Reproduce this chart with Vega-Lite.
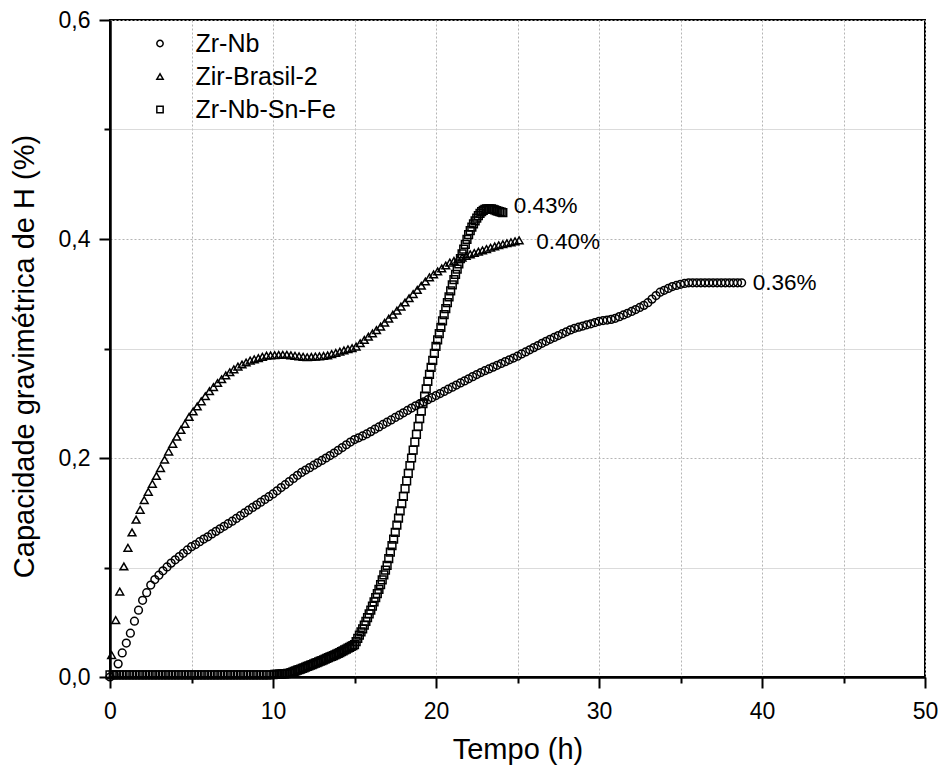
{
"$schema": "https://vega.github.io/schema/vega-lite/v6.json",
"width": 815, "height": 657,
"autosize": {"type": "none"},
"padding": {"left": 110, "top": 20, "right": 15, "bottom": 94},
"background": "white",
"config": {
 "font": "Liberation Sans",
 "view": {"stroke": "black", "strokeWidth": 2},
 "axis": {"domainColor": "black", "domainWidth": 2.5, "tickColor": "black", "tickWidth": 2, "labelFontSize": 23, "labelColor": "black", "titleFontSize": 29, "titleFontWeight": "normal", "titleColor": "black", "labelFlush": false, "labelOverlap": false},
 "legend": {"orient": "none", "legendX": 37.5, "legendY": 11, "labelFontSize": 25, "labelColor": "black", "symbolSize": 40, "symbolStrokeWidth": 1.5, "labelOffset": 23, "rowPadding": 7, "padding": 0}
},
"datasets": {
"pts": [
{"s":"Zr-Nb","t":0,"v":0},{"s":"Zr-Nb","t":0.25,"v":0.002},{"s":"Zr-Nb","t":0.5,"v":0.012},{"s":"Zr-Nb","t":0.75,"v":0.022},{"s":"Zr-Nb","t":1,"v":0.031},{"s":"Zr-Nb","t":1.25,"v":0.04},{"s":"Zr-Nb","t":1.5,"v":0.051},{"s":"Zr-Nb","t":1.75,"v":0.061},{"s":"Zr-Nb","t":2,"v":0.07},{"s":"Zr-Nb","t":2.25,"v":0.077},{"s":"Zr-Nb","t":2.5,"v":0.084},{"s":"Zr-Nb","t":2.75,"v":0.089},{"s":"Zr-Nb","t":3,"v":0.093},{"s":"Zr-Nb","t":3.25,"v":0.097},{"s":"Zr-Nb","t":3.5,"v":0.1005},{"s":"Zr-Nb","t":3.75,"v":0.104},{"s":"Zr-Nb","t":4,"v":0.107},{"s":"Zr-Nb","t":4.25,"v":0.11},{"s":"Zr-Nb","t":4.5,"v":0.113},{"s":"Zr-Nb","t":4.75,"v":0.116},{"s":"Zr-Nb","t":5,"v":0.119},{"s":"Zr-Nb","t":5.25,"v":0.121},{"s":"Zr-Nb","t":5.5,"v":0.1236},{"s":"Zr-Nb","t":5.75,"v":0.126},{"s":"Zr-Nb","t":6,"v":0.128},{"s":"Zr-Nb","t":6.25,"v":0.1306},{"s":"Zr-Nb","t":6.5,"v":0.133},{"s":"Zr-Nb","t":6.75,"v":0.1353},{"s":"Zr-Nb","t":7,"v":0.1376},{"s":"Zr-Nb","t":7.25,"v":0.14},{"s":"Zr-Nb","t":7.5,"v":0.1423},{"s":"Zr-Nb","t":7.75,"v":0.1448},{"s":"Zr-Nb","t":8,"v":0.1473},{"s":"Zr-Nb","t":8.25,"v":0.1498},{"s":"Zr-Nb","t":8.5,"v":0.1523},{"s":"Zr-Nb","t":8.75,"v":0.1548},{"s":"Zr-Nb","t":9,"v":0.1572},{"s":"Zr-Nb","t":9.25,"v":0.1597},{"s":"Zr-Nb","t":9.5,"v":0.1622},{"s":"Zr-Nb","t":9.75,"v":0.1647},{"s":"Zr-Nb","t":10,"v":0.1672},{"s":"Zr-Nb","t":10.25,"v":0.17},{"s":"Zr-Nb","t":10.5,"v":0.173},{"s":"Zr-Nb","t":10.75,"v":0.1756},{"s":"Zr-Nb","t":11,"v":0.1785},{"s":"Zr-Nb","t":11.25,"v":0.1813},{"s":"Zr-Nb","t":11.5,"v":0.1842},{"s":"Zr-Nb","t":11.75,"v":0.1868},{"s":"Zr-Nb","t":12,"v":0.189},{"s":"Zr-Nb","t":12.25,"v":0.1912},{"s":"Zr-Nb","t":12.5,"v":0.1934},{"s":"Zr-Nb","t":12.75,"v":0.1956},{"s":"Zr-Nb","t":13,"v":0.1978},{"s":"Zr-Nb","t":13.25,"v":0.2},{"s":"Zr-Nb","t":13.5,"v":0.2022},{"s":"Zr-Nb","t":13.75,"v":0.2045},{"s":"Zr-Nb","t":14,"v":0.207},{"s":"Zr-Nb","t":14.25,"v":0.2095},{"s":"Zr-Nb","t":14.5,"v":0.2121},{"s":"Zr-Nb","t":14.75,"v":0.2146},{"s":"Zr-Nb","t":15,"v":0.2168},{"s":"Zr-Nb","t":15.25,"v":0.2184},{"s":"Zr-Nb","t":15.5,"v":0.2201},{"s":"Zr-Nb","t":15.75,"v":0.222},{"s":"Zr-Nb","t":16,"v":0.2241},{"s":"Zr-Nb","t":16.25,"v":0.2263},{"s":"Zr-Nb","t":16.5,"v":0.2284},{"s":"Zr-Nb","t":16.75,"v":0.2306},{"s":"Zr-Nb","t":17,"v":0.2327},{"s":"Zr-Nb","t":17.25,"v":0.2348},{"s":"Zr-Nb","t":17.5,"v":0.237},{"s":"Zr-Nb","t":17.75,"v":0.2391},{"s":"Zr-Nb","t":18,"v":0.2413},{"s":"Zr-Nb","t":18.25,"v":0.2434},{"s":"Zr-Nb","t":18.5,"v":0.2456},{"s":"Zr-Nb","t":18.75,"v":0.2477},{"s":"Zr-Nb","t":19,"v":0.2495},{"s":"Zr-Nb","t":19.25,"v":0.2513},{"s":"Zr-Nb","t":19.5,"v":0.2532},{"s":"Zr-Nb","t":19.75,"v":0.2551},{"s":"Zr-Nb","t":20,"v":0.257},{"s":"Zr-Nb","t":20.25,"v":0.2589},{"s":"Zr-Nb","t":20.5,"v":0.2608},{"s":"Zr-Nb","t":20.75,"v":0.2628},{"s":"Zr-Nb","t":21,"v":0.2647},{"s":"Zr-Nb","t":21.25,"v":0.2666},{"s":"Zr-Nb","t":21.5,"v":0.2685},{"s":"Zr-Nb","t":21.75,"v":0.2704},{"s":"Zr-Nb","t":22,"v":0.2723},{"s":"Zr-Nb","t":22.25,"v":0.2743},{"s":"Zr-Nb","t":22.5,"v":0.2762},{"s":"Zr-Nb","t":22.75,"v":0.278},{"s":"Zr-Nb","t":23,"v":0.2797},{"s":"Zr-Nb","t":23.25,"v":0.2813},{"s":"Zr-Nb","t":23.5,"v":0.283},{"s":"Zr-Nb","t":23.75,"v":0.2847},{"s":"Zr-Nb","t":24,"v":0.2863},{"s":"Zr-Nb","t":24.25,"v":0.288},{"s":"Zr-Nb","t":24.5,"v":0.2897},{"s":"Zr-Nb","t":24.75,"v":0.2913},{"s":"Zr-Nb","t":25,"v":0.293},{"s":"Zr-Nb","t":25.25,"v":0.295},{"s":"Zr-Nb","t":25.5,"v":0.2969},{"s":"Zr-Nb","t":25.75,"v":0.2988},{"s":"Zr-Nb","t":26,"v":0.3008},{"s":"Zr-Nb","t":26.25,"v":0.3027},{"s":"Zr-Nb","t":26.5,"v":0.3047},{"s":"Zr-Nb","t":26.75,"v":0.3066},{"s":"Zr-Nb","t":27,"v":0.3084},{"s":"Zr-Nb","t":27.25,"v":0.3101},{"s":"Zr-Nb","t":27.5,"v":0.3118},{"s":"Zr-Nb","t":27.75,"v":0.3135},{"s":"Zr-Nb","t":28,"v":0.3152},{"s":"Zr-Nb","t":28.25,"v":0.317},{"s":"Zr-Nb","t":28.5,"v":0.3184},{"s":"Zr-Nb","t":28.75,"v":0.3195},{"s":"Zr-Nb","t":29,"v":0.3205},{"s":"Zr-Nb","t":29.25,"v":0.3216},{"s":"Zr-Nb","t":29.5,"v":0.3226},{"s":"Zr-Nb","t":29.75,"v":0.3237},{"s":"Zr-Nb","t":30,"v":0.3248},{"s":"Zr-Nb","t":30.25,"v":0.3255},{"s":"Zr-Nb","t":30.5,"v":0.326},{"s":"Zr-Nb","t":30.75,"v":0.3266},{"s":"Zr-Nb","t":31,"v":0.3276},{"s":"Zr-Nb","t":31.25,"v":0.3291},{"s":"Zr-Nb","t":31.5,"v":0.3306},{"s":"Zr-Nb","t":31.75,"v":0.3321},{"s":"Zr-Nb","t":32,"v":0.3338},{"s":"Zr-Nb","t":32.25,"v":0.3356},{"s":"Zr-Nb","t":32.5,"v":0.3375},{"s":"Zr-Nb","t":32.75,"v":0.3394},{"s":"Zr-Nb","t":33,"v":0.3418},{"s":"Zr-Nb","t":33.25,"v":0.3451},{"s":"Zr-Nb","t":33.5,"v":0.3484},{"s":"Zr-Nb","t":33.75,"v":0.3514},{"s":"Zr-Nb","t":34,"v":0.3531},{"s":"Zr-Nb","t":34.25,"v":0.3548},{"s":"Zr-Nb","t":34.5,"v":0.3566},{"s":"Zr-Nb","t":34.75,"v":0.3576},{"s":"Zr-Nb","t":35,"v":0.3586},{"s":"Zr-Nb","t":35.25,"v":0.3594},{"s":"Zr-Nb","t":35.5,"v":0.36},{"s":"Zr-Nb","t":35.75,"v":0.36},{"s":"Zr-Nb","t":36,"v":0.36},{"s":"Zr-Nb","t":36.25,"v":0.36},{"s":"Zr-Nb","t":36.5,"v":0.36},{"s":"Zr-Nb","t":36.75,"v":0.36},{"s":"Zr-Nb","t":37,"v":0.36},{"s":"Zr-Nb","t":37.25,"v":0.36},{"s":"Zr-Nb","t":37.5,"v":0.36},{"s":"Zr-Nb","t":37.75,"v":0.36},{"s":"Zr-Nb","t":38,"v":0.36},{"s":"Zr-Nb","t":38.25,"v":0.36},{"s":"Zr-Nb","t":38.5,"v":0.36},{"s":"Zr-Nb","t":38.75,"v":0.36},
{"s":"Zir-Brasil-2","t":0.1,"v":0.02},{"s":"Zir-Brasil-2","t":0.35,"v":0.052},{"s":"Zir-Brasil-2","t":0.6,"v":0.078},{"s":"Zir-Brasil-2","t":0.85,"v":0.101},{"s":"Zir-Brasil-2","t":1.1,"v":0.118},{"s":"Zir-Brasil-2","t":1.35,"v":0.132},{"s":"Zir-Brasil-2","t":1.6,"v":0.1437},{"s":"Zir-Brasil-2","t":1.85,"v":0.1527},{"s":"Zir-Brasil-2","t":2.1,"v":0.1616},{"s":"Zir-Brasil-2","t":2.35,"v":0.1691},{"s":"Zir-Brasil-2","t":2.6,"v":0.1764},{"s":"Zir-Brasil-2","t":2.85,"v":0.1836},{"s":"Zir-Brasil-2","t":3.1,"v":0.1908},{"s":"Zir-Brasil-2","t":3.35,"v":0.1985},{"s":"Zir-Brasil-2","t":3.6,"v":0.2059},{"s":"Zir-Brasil-2","t":3.85,"v":0.2129},{"s":"Zir-Brasil-2","t":4.1,"v":0.2195},{"s":"Zir-Brasil-2","t":4.35,"v":0.2256},{"s":"Zir-Brasil-2","t":4.6,"v":0.2312},{"s":"Zir-Brasil-2","t":4.85,"v":0.2375},{"s":"Zir-Brasil-2","t":5.1,"v":0.2425},{"s":"Zir-Brasil-2","t":5.35,"v":0.2471},{"s":"Zir-Brasil-2","t":5.6,"v":0.2518},{"s":"Zir-Brasil-2","t":5.85,"v":0.2564},{"s":"Zir-Brasil-2","t":6.1,"v":0.261},{"s":"Zir-Brasil-2","t":6.35,"v":0.2648},{"s":"Zir-Brasil-2","t":6.6,"v":0.2685},{"s":"Zir-Brasil-2","t":6.85,"v":0.2719},{"s":"Zir-Brasil-2","t":7.1,"v":0.2754},{"s":"Zir-Brasil-2","t":7.35,"v":0.2783},{"s":"Zir-Brasil-2","t":7.6,"v":0.281},{"s":"Zir-Brasil-2","t":7.85,"v":0.2835},{"s":"Zir-Brasil-2","t":8.1,"v":0.2854},{"s":"Zir-Brasil-2","t":8.35,"v":0.2872},{"s":"Zir-Brasil-2","t":8.6,"v":0.289},{"s":"Zir-Brasil-2","t":8.85,"v":0.2901},{"s":"Zir-Brasil-2","t":9.1,"v":0.2912},{"s":"Zir-Brasil-2","t":9.35,"v":0.2924},{"s":"Zir-Brasil-2","t":9.6,"v":0.2935},{"s":"Zir-Brasil-2","t":9.85,"v":0.2937},{"s":"Zir-Brasil-2","t":10.1,"v":0.2939},{"s":"Zir-Brasil-2","t":10.35,"v":0.2941},{"s":"Zir-Brasil-2","t":10.6,"v":0.2943},{"s":"Zir-Brasil-2","t":10.85,"v":0.2943},{"s":"Zir-Brasil-2","t":11.1,"v":0.2938},{"s":"Zir-Brasil-2","t":11.35,"v":0.2933},{"s":"Zir-Brasil-2","t":11.6,"v":0.2929},{"s":"Zir-Brasil-2","t":11.85,"v":0.2924},{"s":"Zir-Brasil-2","t":12.1,"v":0.292},{"s":"Zir-Brasil-2","t":12.35,"v":0.2923},{"s":"Zir-Brasil-2","t":12.6,"v":0.2926},{"s":"Zir-Brasil-2","t":12.85,"v":0.2929},{"s":"Zir-Brasil-2","t":13.1,"v":0.2932},{"s":"Zir-Brasil-2","t":13.35,"v":0.2937},{"s":"Zir-Brasil-2","t":13.6,"v":0.2949},{"s":"Zir-Brasil-2","t":13.85,"v":0.296},{"s":"Zir-Brasil-2","t":14.1,"v":0.2971},{"s":"Zir-Brasil-2","t":14.35,"v":0.2982},{"s":"Zir-Brasil-2","t":14.6,"v":0.2993},{"s":"Zir-Brasil-2","t":14.85,"v":0.3003},{"s":"Zir-Brasil-2","t":15.1,"v":0.3018},{"s":"Zir-Brasil-2","t":15.35,"v":0.3048},{"s":"Zir-Brasil-2","t":15.6,"v":0.3078},{"s":"Zir-Brasil-2","t":15.85,"v":0.3108},{"s":"Zir-Brasil-2","t":16.1,"v":0.3138},{"s":"Zir-Brasil-2","t":16.35,"v":0.3168},{"s":"Zir-Brasil-2","t":16.6,"v":0.3199},{"s":"Zir-Brasil-2","t":16.85,"v":0.3235},{"s":"Zir-Brasil-2","t":17.1,"v":0.3272},{"s":"Zir-Brasil-2","t":17.35,"v":0.3309},{"s":"Zir-Brasil-2","t":17.6,"v":0.3346},{"s":"Zir-Brasil-2","t":17.85,"v":0.3383},{"s":"Zir-Brasil-2","t":18.1,"v":0.342},{"s":"Zir-Brasil-2","t":18.35,"v":0.3459},{"s":"Zir-Brasil-2","t":18.6,"v":0.3497},{"s":"Zir-Brasil-2","t":18.85,"v":0.3535},{"s":"Zir-Brasil-2","t":19.1,"v":0.3573},{"s":"Zir-Brasil-2","t":19.35,"v":0.3612},{"s":"Zir-Brasil-2","t":19.6,"v":0.365},{"s":"Zir-Brasil-2","t":19.85,"v":0.3677},{"s":"Zir-Brasil-2","t":20.1,"v":0.3704},{"s":"Zir-Brasil-2","t":20.35,"v":0.3731},{"s":"Zir-Brasil-2","t":20.6,"v":0.3758},{"s":"Zir-Brasil-2","t":20.85,"v":0.3785},{"s":"Zir-Brasil-2","t":21.1,"v":0.38},{"s":"Zir-Brasil-2","t":21.35,"v":0.3815},{"s":"Zir-Brasil-2","t":21.6,"v":0.383},{"s":"Zir-Brasil-2","t":21.85,"v":0.3845},{"s":"Zir-Brasil-2","t":22.1,"v":0.386},{"s":"Zir-Brasil-2","t":22.35,"v":0.3872},{"s":"Zir-Brasil-2","t":22.6,"v":0.3884},{"s":"Zir-Brasil-2","t":22.85,"v":0.3896},{"s":"Zir-Brasil-2","t":23.1,"v":0.3908},{"s":"Zir-Brasil-2","t":23.35,"v":0.392},{"s":"Zir-Brasil-2","t":23.6,"v":0.3932},{"s":"Zir-Brasil-2","t":23.85,"v":0.3943},{"s":"Zir-Brasil-2","t":24.1,"v":0.3952},{"s":"Zir-Brasil-2","t":24.35,"v":0.3961},{"s":"Zir-Brasil-2","t":24.6,"v":0.397},{"s":"Zir-Brasil-2","t":24.85,"v":0.3979},{"s":"Zir-Brasil-2","t":25.1,"v":0.3988},
{"s":"Zr-Nb-Sn-Fe","t":0,"v":0.002},{"s":"Zr-Nb-Sn-Fe","t":0.2,"v":0.002},{"s":"Zr-Nb-Sn-Fe","t":0.4,"v":0.002},{"s":"Zr-Nb-Sn-Fe","t":0.6,"v":0.002},{"s":"Zr-Nb-Sn-Fe","t":0.8,"v":0.002},{"s":"Zr-Nb-Sn-Fe","t":1,"v":0.002},{"s":"Zr-Nb-Sn-Fe","t":1.2,"v":0.002},{"s":"Zr-Nb-Sn-Fe","t":1.4,"v":0.002},{"s":"Zr-Nb-Sn-Fe","t":1.6,"v":0.002},{"s":"Zr-Nb-Sn-Fe","t":1.8,"v":0.002},{"s":"Zr-Nb-Sn-Fe","t":2,"v":0.002},{"s":"Zr-Nb-Sn-Fe","t":2.2,"v":0.002},{"s":"Zr-Nb-Sn-Fe","t":2.4,"v":0.002},{"s":"Zr-Nb-Sn-Fe","t":2.6,"v":0.002},{"s":"Zr-Nb-Sn-Fe","t":2.8,"v":0.002},{"s":"Zr-Nb-Sn-Fe","t":3,"v":0.002},{"s":"Zr-Nb-Sn-Fe","t":3.2,"v":0.002},{"s":"Zr-Nb-Sn-Fe","t":3.4,"v":0.002},{"s":"Zr-Nb-Sn-Fe","t":3.6,"v":0.002},{"s":"Zr-Nb-Sn-Fe","t":3.8,"v":0.002},{"s":"Zr-Nb-Sn-Fe","t":4,"v":0.002},{"s":"Zr-Nb-Sn-Fe","t":4.2,"v":0.002},{"s":"Zr-Nb-Sn-Fe","t":4.4,"v":0.002},{"s":"Zr-Nb-Sn-Fe","t":4.6,"v":0.002},{"s":"Zr-Nb-Sn-Fe","t":4.8,"v":0.002},{"s":"Zr-Nb-Sn-Fe","t":5,"v":0.002},{"s":"Zr-Nb-Sn-Fe","t":5.2,"v":0.002},{"s":"Zr-Nb-Sn-Fe","t":5.4,"v":0.002},{"s":"Zr-Nb-Sn-Fe","t":5.6,"v":0.002},{"s":"Zr-Nb-Sn-Fe","t":5.8,"v":0.002},{"s":"Zr-Nb-Sn-Fe","t":6,"v":0.002},{"s":"Zr-Nb-Sn-Fe","t":6.2,"v":0.002},{"s":"Zr-Nb-Sn-Fe","t":6.4,"v":0.002},{"s":"Zr-Nb-Sn-Fe","t":6.6,"v":0.002},{"s":"Zr-Nb-Sn-Fe","t":6.8,"v":0.002},{"s":"Zr-Nb-Sn-Fe","t":7,"v":0.002},{"s":"Zr-Nb-Sn-Fe","t":7.2,"v":0.002},{"s":"Zr-Nb-Sn-Fe","t":7.4,"v":0.002},{"s":"Zr-Nb-Sn-Fe","t":7.6,"v":0.002},{"s":"Zr-Nb-Sn-Fe","t":7.8,"v":0.002},{"s":"Zr-Nb-Sn-Fe","t":8,"v":0.002},{"s":"Zr-Nb-Sn-Fe","t":8.2,"v":0.002},{"s":"Zr-Nb-Sn-Fe","t":8.4,"v":0.002},{"s":"Zr-Nb-Sn-Fe","t":8.6,"v":0.002},{"s":"Zr-Nb-Sn-Fe","t":8.8,"v":0.002},{"s":"Zr-Nb-Sn-Fe","t":9,"v":0.002},{"s":"Zr-Nb-Sn-Fe","t":9.2,"v":0.002},{"s":"Zr-Nb-Sn-Fe","t":9.4,"v":0.002},{"s":"Zr-Nb-Sn-Fe","t":9.6,"v":0.002},{"s":"Zr-Nb-Sn-Fe","t":9.8,"v":0.002},
{"s":"Zr-Nb-Sn-Fe","t":10,"v":0.0022},{"s":"Zr-Nb-Sn-Fe","t":10.1,"v":0.0023},{"s":"Zr-Nb-Sn-Fe","t":10.2,"v":0.0024},{"s":"Zr-Nb-Sn-Fe","t":10.3,"v":0.0025},{"s":"Zr-Nb-Sn-Fe","t":10.4,"v":0.0026},{"s":"Zr-Nb-Sn-Fe","t":10.5,"v":0.0027},{"s":"Zr-Nb-Sn-Fe","t":10.6,"v":0.0028},{"s":"Zr-Nb-Sn-Fe","t":10.7,"v":0.0029},{"s":"Zr-Nb-Sn-Fe","t":10.8,"v":0.003},{"s":"Zr-Nb-Sn-Fe","t":10.9,"v":0.0032},{"s":"Zr-Nb-Sn-Fe","t":11,"v":0.0034},{"s":"Zr-Nb-Sn-Fe","t":11.1,"v":0.004},{"s":"Zr-Nb-Sn-Fe","t":11.2,"v":0.0045},{"s":"Zr-Nb-Sn-Fe","t":11.3,"v":0.0051},{"s":"Zr-Nb-Sn-Fe","t":11.4,"v":0.0056},{"s":"Zr-Nb-Sn-Fe","t":11.5,"v":0.0062},{"s":"Zr-Nb-Sn-Fe","t":11.6,"v":0.0068},{"s":"Zr-Nb-Sn-Fe","t":11.7,"v":0.0073},{"s":"Zr-Nb-Sn-Fe","t":11.8,"v":0.0079},{"s":"Zr-Nb-Sn-Fe","t":11.9,"v":0.0084},{"s":"Zr-Nb-Sn-Fe","t":12,"v":0.009},{"s":"Zr-Nb-Sn-Fe","t":12.1,"v":0.0096},{"s":"Zr-Nb-Sn-Fe","t":12.2,"v":0.0102},{"s":"Zr-Nb-Sn-Fe","t":12.3,"v":0.0108},{"s":"Zr-Nb-Sn-Fe","t":12.4,"v":0.0114},{"s":"Zr-Nb-Sn-Fe","t":12.5,"v":0.012},{"s":"Zr-Nb-Sn-Fe","t":12.6,"v":0.0126},{"s":"Zr-Nb-Sn-Fe","t":12.7,"v":0.0132},{"s":"Zr-Nb-Sn-Fe","t":12.8,"v":0.0138},{"s":"Zr-Nb-Sn-Fe","t":12.9,"v":0.0144},{"s":"Zr-Nb-Sn-Fe","t":13,"v":0.015},{"s":"Zr-Nb-Sn-Fe","t":13.1,"v":0.0157},{"s":"Zr-Nb-Sn-Fe","t":13.2,"v":0.0163},{"s":"Zr-Nb-Sn-Fe","t":13.3,"v":0.017},{"s":"Zr-Nb-Sn-Fe","t":13.4,"v":0.0176},{"s":"Zr-Nb-Sn-Fe","t":13.5,"v":0.0183},{"s":"Zr-Nb-Sn-Fe","t":13.6,"v":0.0189},{"s":"Zr-Nb-Sn-Fe","t":13.7,"v":0.0196},{"s":"Zr-Nb-Sn-Fe","t":13.8,"v":0.0202},{"s":"Zr-Nb-Sn-Fe","t":13.9,"v":0.0209},{"s":"Zr-Nb-Sn-Fe","t":14,"v":0.0215},{"s":"Zr-Nb-Sn-Fe","t":14.1,"v":0.0223},{"s":"Zr-Nb-Sn-Fe","t":14.2,"v":0.0231},{"s":"Zr-Nb-Sn-Fe","t":14.3,"v":0.0239},{"s":"Zr-Nb-Sn-Fe","t":14.4,"v":0.0247},{"s":"Zr-Nb-Sn-Fe","t":14.5,"v":0.0255},{"s":"Zr-Nb-Sn-Fe","t":14.6,"v":0.0263},{"s":"Zr-Nb-Sn-Fe","t":14.7,"v":0.0271},{"s":"Zr-Nb-Sn-Fe","t":14.8,"v":0.0279},{"s":"Zr-Nb-Sn-Fe","t":14.9,"v":0.0287},{"s":"Zr-Nb-Sn-Fe","t":15,"v":0.0295},{"s":"Zr-Nb-Sn-Fe","t":15.1,"v":0.0324},{"s":"Zr-Nb-Sn-Fe","t":15.2,"v":0.0353},{"s":"Zr-Nb-Sn-Fe","t":15.3,"v":0.0382},{"s":"Zr-Nb-Sn-Fe","t":15.4,"v":0.0411},{"s":"Zr-Nb-Sn-Fe","t":15.5,"v":0.044},{"s":"Zr-Nb-Sn-Fe","t":15.6,"v":0.0474},{"s":"Zr-Nb-Sn-Fe","t":15.7,"v":0.0508},{"s":"Zr-Nb-Sn-Fe","t":15.8,"v":0.0542},{"s":"Zr-Nb-Sn-Fe","t":15.9,"v":0.0576},{"s":"Zr-Nb-Sn-Fe","t":16,"v":0.061},{"s":"Zr-Nb-Sn-Fe","t":16.1,"v":0.0648},{"s":"Zr-Nb-Sn-Fe","t":16.2,"v":0.0686},{"s":"Zr-Nb-Sn-Fe","t":16.3,"v":0.0724},{"s":"Zr-Nb-Sn-Fe","t":16.4,"v":0.0762},{"s":"Zr-Nb-Sn-Fe","t":16.5,"v":0.08},{"s":"Zr-Nb-Sn-Fe","t":16.6,"v":0.0844},{"s":"Zr-Nb-Sn-Fe","t":16.7,"v":0.0888},{"s":"Zr-Nb-Sn-Fe","t":16.8,"v":0.0932},{"s":"Zr-Nb-Sn-Fe","t":16.9,"v":0.0976},{"s":"Zr-Nb-Sn-Fe","t":17,"v":0.102},{"s":"Zr-Nb-Sn-Fe","t":17.1,"v":0.108},{"s":"Zr-Nb-Sn-Fe","t":17.2,"v":0.114},{"s":"Zr-Nb-Sn-Fe","t":17.3,"v":0.12},{"s":"Zr-Nb-Sn-Fe","t":17.4,"v":0.126},{"s":"Zr-Nb-Sn-Fe","t":17.5,"v":0.132},{"s":"Zr-Nb-Sn-Fe","t":17.6,"v":0.1386},{"s":"Zr-Nb-Sn-Fe","t":17.7,"v":0.1452},{"s":"Zr-Nb-Sn-Fe","t":17.8,"v":0.1518},{"s":"Zr-Nb-Sn-Fe","t":17.9,"v":0.1584},{"s":"Zr-Nb-Sn-Fe","t":18,"v":0.165},{"s":"Zr-Nb-Sn-Fe","t":18.1,"v":0.172},{"s":"Zr-Nb-Sn-Fe","t":18.2,"v":0.179},{"s":"Zr-Nb-Sn-Fe","t":18.3,"v":0.186},{"s":"Zr-Nb-Sn-Fe","t":18.4,"v":0.193},{"s":"Zr-Nb-Sn-Fe","t":18.5,"v":0.2},{"s":"Zr-Nb-Sn-Fe","t":18.6,"v":0.2072},{"s":"Zr-Nb-Sn-Fe","t":18.7,"v":0.2144},{"s":"Zr-Nb-Sn-Fe","t":18.8,"v":0.2216},{"s":"Zr-Nb-Sn-Fe","t":18.9,"v":0.2288},{"s":"Zr-Nb-Sn-Fe","t":19,"v":0.236},{"s":"Zr-Nb-Sn-Fe","t":19.1,"v":0.2428},{"s":"Zr-Nb-Sn-Fe","t":19.2,"v":0.2496},{"s":"Zr-Nb-Sn-Fe","t":19.3,"v":0.2564},{"s":"Zr-Nb-Sn-Fe","t":19.4,"v":0.2632},{"s":"Zr-Nb-Sn-Fe","t":19.5,"v":0.27},{"s":"Zr-Nb-Sn-Fe","t":19.6,"v":0.2764},{"s":"Zr-Nb-Sn-Fe","t":19.7,"v":0.2828},{"s":"Zr-Nb-Sn-Fe","t":19.8,"v":0.2892},{"s":"Zr-Nb-Sn-Fe","t":19.9,"v":0.2956},{"s":"Zr-Nb-Sn-Fe","t":20,"v":0.302},{"s":"Zr-Nb-Sn-Fe","t":20.1,"v":0.3078},{"s":"Zr-Nb-Sn-Fe","t":20.2,"v":0.3136},{"s":"Zr-Nb-Sn-Fe","t":20.3,"v":0.3194},{"s":"Zr-Nb-Sn-Fe","t":20.4,"v":0.3252},{"s":"Zr-Nb-Sn-Fe","t":20.5,"v":0.331},{"s":"Zr-Nb-Sn-Fe","t":20.6,"v":0.3364},{"s":"Zr-Nb-Sn-Fe","t":20.7,"v":0.3418},{"s":"Zr-Nb-Sn-Fe","t":20.8,"v":0.3472},{"s":"Zr-Nb-Sn-Fe","t":20.9,"v":0.3526},{"s":"Zr-Nb-Sn-Fe","t":21,"v":0.358},{"s":"Zr-Nb-Sn-Fe","t":21.1,"v":0.3628},{"s":"Zr-Nb-Sn-Fe","t":21.2,"v":0.3676},{"s":"Zr-Nb-Sn-Fe","t":21.3,"v":0.3724},{"s":"Zr-Nb-Sn-Fe","t":21.4,"v":0.3772},{"s":"Zr-Nb-Sn-Fe","t":21.5,"v":0.382},{"s":"Zr-Nb-Sn-Fe","t":21.6,"v":0.3864},{"s":"Zr-Nb-Sn-Fe","t":21.7,"v":0.3908},{"s":"Zr-Nb-Sn-Fe","t":21.8,"v":0.3952},{"s":"Zr-Nb-Sn-Fe","t":21.9,"v":0.3996},{"s":"Zr-Nb-Sn-Fe","t":22,"v":0.404},{"s":"Zr-Nb-Sn-Fe","t":22.1,"v":0.4076},{"s":"Zr-Nb-Sn-Fe","t":22.2,"v":0.4109},{"s":"Zr-Nb-Sn-Fe","t":22.3,"v":0.4139},{"s":"Zr-Nb-Sn-Fe","t":22.4,"v":0.4166},{"s":"Zr-Nb-Sn-Fe","t":22.5,"v":0.419},{"s":"Zr-Nb-Sn-Fe","t":22.6,"v":0.4214},{"s":"Zr-Nb-Sn-Fe","t":22.7,"v":0.4234},{"s":"Zr-Nb-Sn-Fe","t":22.8,"v":0.425},{"s":"Zr-Nb-Sn-Fe","t":22.9,"v":0.4262},{"s":"Zr-Nb-Sn-Fe","t":23,"v":0.427},{"s":"Zr-Nb-Sn-Fe","t":23.1,"v":0.4274},{"s":"Zr-Nb-Sn-Fe","t":23.2,"v":0.4276},{"s":"Zr-Nb-Sn-Fe","t":23.3,"v":0.4276},{"s":"Zr-Nb-Sn-Fe","t":23.4,"v":0.4274},{"s":"Zr-Nb-Sn-Fe","t":23.5,"v":0.427},{"s":"Zr-Nb-Sn-Fe","t":23.6,"v":0.4265},{"s":"Zr-Nb-Sn-Fe","t":23.7,"v":0.426},{"s":"Zr-Nb-Sn-Fe","t":23.8,"v":0.4255},{"s":"Zr-Nb-Sn-Fe","t":23.9,"v":0.425},{"s":"Zr-Nb-Sn-Fe","t":24,"v":0.4245},{"s":"Zr-Nb-Sn-Fe","t":24.1,"v":0.424}
]
},
"layer": [
 {
  "data": {"name": "pts"},
  "mark": {"type": "point", "filled": false, "strokeWidth": 1.5, "size": 60, "color": "black", "opacity": 1},
  "encoding": {
   "x": {"field": "t", "type": "quantitative", "scale": {"domain": [0, 50], "nice": false},
    "axis": {"values": [0,5,10,15,20,25,30,35,40,45,50], "labelExpr": "datum.value % 10 == 0 ? datum.label : ''", "title": "Tempo (h)",
     "tickSize": {"condition": {"test": "datum.value % 10 == 0", "value": 11}, "value": 6},
     "labelPadding": 12, "titlePadding": 12, "grid": true, "gridDash": [2, 2], "gridColor": "#b5b5b5", "gridWidth": 1}},
   "y": {"field": "v", "type": "quantitative", "scale": {"domain": [0, 0.6], "nice": false},
    "axis": {"values": [0,0.1,0.2,0.3,0.4,0.5,0.6], "labelExpr": "round(datum.value*10) % 2 == 0 ? replace(format(datum.value, '.1f'), '.', ',') : ''", "title": "Capacidade gravimétrica de H (%)",
     "tickSize": {"condition": {"test": "round(datum.value*10) % 2 == 0", "value": 11}, "value": 6},
     "labelPadding": 9, "titlePadding": 19, "titleY": 336, "grid": true,
     "gridDash": {"condition": {"test": "round(datum.value*10) % 2 == 0", "value": [2, 2]}, "value": [1, 0]},
     "gridColor": {"condition": {"test": "round(datum.value*10) % 2 == 0", "value": "#b5b5b5"}, "value": "#cfcfcf"}, "gridWidth": 1}},
   "shape": {"field": "s", "type": "nominal", "scale": {"domain": ["Zr-Nb", "Zir-Brasil-2", "Zr-Nb-Sn-Fe"], "range": ["circle", "triangle-up", "square"]}, "legend": {"title": null}}
  }
 },
 {
  "data": {"values": [{"t": 24.1, "v": 0.424, "label": "0.43%"}]},
  "mark": {"type": "text", "align": "left", "baseline": "middle", "dx": 11, "dy": -7, "fontSize": 22.5, "color": "black"},
  "encoding": {"x": {"field": "t", "type": "quantitative"}, "y": {"field": "v", "type": "quantitative"}, "text": {"field": "label"}}
 },
 {
  "data": {"values": [{"t": 25.1, "v": 0.3988, "label": "0.40%"}]},
  "mark": {"type": "text", "align": "left", "baseline": "middle", "dx": 17, "dy": 2, "fontSize": 22.5, "color": "black"},
  "encoding": {"x": {"field": "t", "type": "quantitative"}, "y": {"field": "v", "type": "quantitative"}, "text": {"field": "label"}}
 },
 {
  "data": {"values": [{"t": 38.75, "v": 0.36, "label": "0.36%"}]},
  "mark": {"type": "text", "align": "left", "baseline": "middle", "dx": 11, "dy": 0, "fontSize": 22.5, "color": "black"},
  "encoding": {"x": {"field": "t", "type": "quantitative"}, "y": {"field": "v", "type": "quantitative"}, "text": {"field": "label"}}
 }
]
}
